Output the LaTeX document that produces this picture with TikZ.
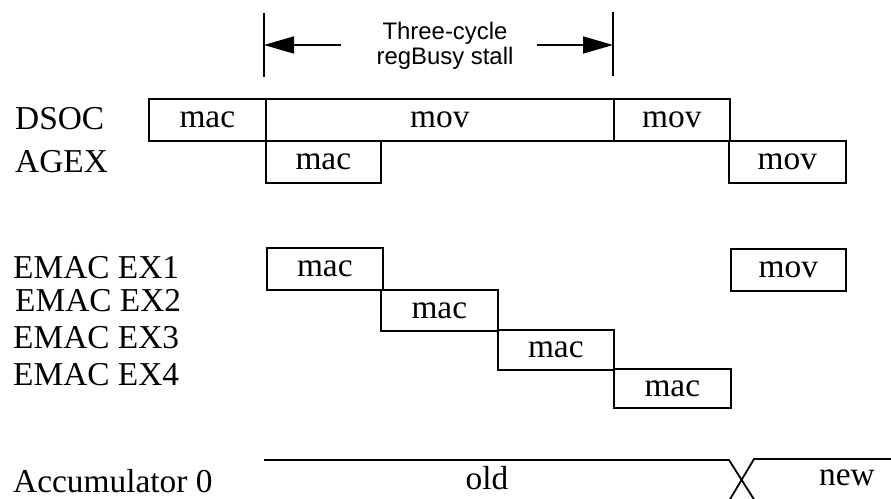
\documentclass[tikz,border=0pt]{standalone}
\usepackage{fontspec}
\setmainfont{Liberation Serif}
\newfontfamily\stallfont{Liberation Sans}
\usetikzlibrary{arrows.meta}
\tikzset{
  lbl/.style={font=\fontsize{33.5}{33.5}\selectfont, inner sep=0pt, anchor=base west},
  boxtext/.style={font=\fontsize{33.5}{33.5}\selectfont},
  slot/.style={draw, line width=1.6bp, inner sep=0pt, anchor=north west, boxtext},
  sans/.style={font=\stallfont\fontsize{24}{24}\selectfont, inner sep=0pt, anchor=base},
  tick/.style={line width=1.6bp},
  stallarrow/.style={line width=1.6bp, -{Triangle[length=30bp,width=17bp]}},
  sigline/.style={line width=1.8bp},
}
\begin{document}
\begin{tikzpicture}[x=1bp,y=-1bp]
\useasboundingbox (0,0) rectangle (891,499);

% stall marker
\coordinate (t1top) at (264,13);
\coordinate (t1bot) at (264,77);
\coordinate (t2top) at (613,12);
\coordinate (t2bot) at (613,76);
\draw[tick] (t1top) -- (t1bot);
\draw[tick] (t2top) -- (t2bot);
\coordinate (a1s) at (341,45);
\coordinate (a1e) at (264,45);
\coordinate (a2s) at (537,45);
\coordinate (a2e) at (613,45);
\draw[stallarrow] (a1s) -- (a1e);
\draw[stallarrow] (a2s) -- (a2e);
\node[sans] (stallA) at (445,40) {Three-cycle};
\node[sans] (stallB) at (445,65) {regBusy stall};

% row labels
\node[lbl] (dsoc) at (15,130) {DSOC};
\node[lbl] (agex) at (15,173) {AGEX};
\node[lbl] (ex1) at (13,279) {EMAC EX1};
\node[lbl] (ex2) at (15,312) {EMAC EX2};
\node[lbl] (ex3) at (13,349) {EMAC EX3};
\node[lbl] (ex4) at (13,385) {EMAC EX4};
\node[lbl] (acc) at (13,492) {Accumulator 0};

% DSOC
\node[slot, minimum width=117bp, minimum height=42bp] (d1) at (148,98) {mac};
\node[slot, minimum width=348bp, minimum height=42bp] (d2) at (265,98) {mov};
\node[slot, minimum width=116bp, minimum height=42bp] (d3) at (613,98) {mov};
% AGEX
\node[slot, minimum width=115bp, minimum height=42bp] (g1) at (265,140) {mac};
\node[slot, minimum width=117bp, minimum height=42bp] (g2) at (728,140) {mov};
% EMAC
\node[slot, minimum width=116bp, minimum height=42bp] (e1) at (266,247) {mac};
\node[slot, minimum width=115bp, minimum height=42bp] (e1b) at (730,248) {mov};
\node[slot, minimum width=117bp, minimum height=41bp] (e2) at (380,289) {mac};
\node[slot, minimum width=116bp, minimum height=40bp] (e3) at (497,329) {mac};
\node[slot, minimum width=117bp, minimum height=39bp] (e4) at (613,368) {mac};

% accumulator
\coordinate (accA) at (264,460);
\coordinate (accB) at (729,460);
\coordinate (accC) at (755,501);
\coordinate (accD) at (754,459);
\coordinate (accE) at (729,501);
\coordinate (accF) at (891,459);
\draw[sigline] (accA) -- (accB) -- (accC);
\draw[sigline] (accF) -- (accD) -- (accE);
\node[boxtext, inner sep=0pt, anchor=base] (old) at (487,489) {old};
\node[boxtext, inner sep=0pt, anchor=base] (new) at (847,485) {new};
\end{tikzpicture}
\end{document}
